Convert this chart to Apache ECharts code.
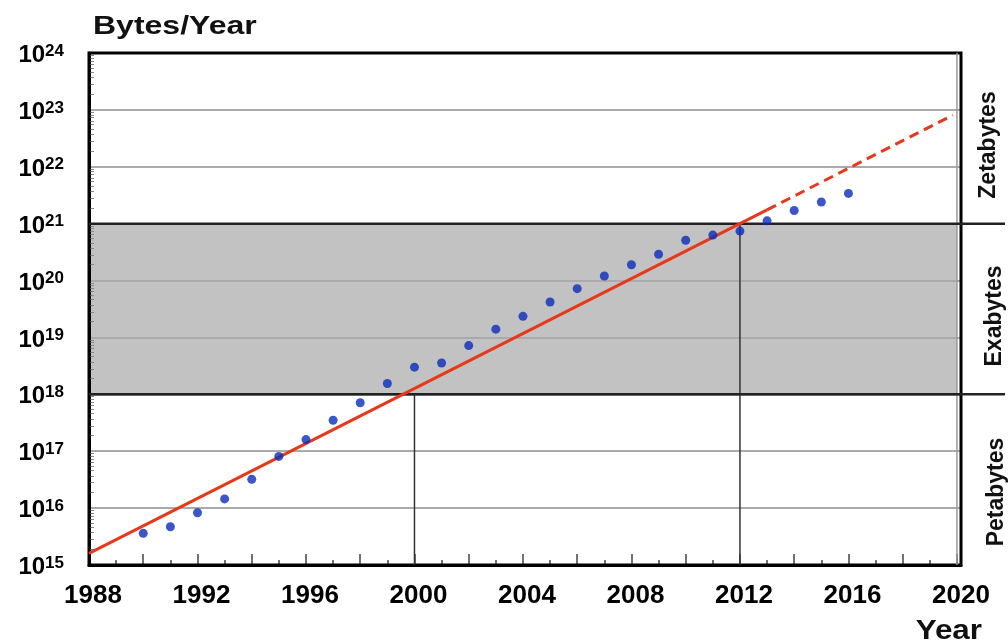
<!DOCTYPE html>
<html>
<head>
<meta charset="utf-8">
<script src="https://cdn.jsdelivr.net/npm/echarts@6/dist/echarts.min.js"></script>
<style>html,body{margin:0;padding:0;background:#fff}#c{width:1008px;height:643px}</style>
</head>
<body>
<div id="c"></div>
<script>
// ---- data ----
const years = [1990,1991,1992,1993,1994,1995,1996,1997,1998,1999,2000,2001,2002,2003,2004,2005,2006,2007,2008,2009,2010,2011,2012,2013,2014,2015,2016];
const bytesPerYear = [3.6e15,4.7e15,8.3e15,1.45e16,3.2e16,8.1e16,1.6e17,3.5e17,7.1e17,1.55e18,3.0e18,3.55e18,7.2e18,1.4e19,2.35e19,4.2e19,7.2e19,1.2e20,1.9e20,2.9e20,5.1e20,6.3e20,7.4e20,1.12e21,1.7e21,2.4e21,3.4e21];
const trendSolid = [[1988,1.6e15],[2013,1.75e21]];
const trendDashed = [[2013,1.75e21],[2019.85,8.1e22]];
const markerLine2000 = [[2000,1e15],[2000,1e18]];
const markerLine2012 = [[2012,1e15],[2012,1e21]];
const bandLow = 1e18, bandHigh = 1e21;
const xMin = 1988, xLast = 2020, xMax = 2020.15;
const yMin = 1e15, yMax = 1e24;
const unitLabels = ['Zetabytes','Exabytes','Petabytes'];
const titleText = 'Bytes/Year';
const xTitle = 'Year';

const FONT = '"Liberation Sans", Arial, Helvetica, sans-serif';
const chart = echarts.init(document.getElementById('c'));

chart.setOption({
  animation: false,
  backgroundColor: '#fff',
  grid: {left: 89, right: 47, top: 53, bottom: 78, show: true, z: 4, borderColor: '#000', borderWidth: 3, backgroundColor: 'transparent'},
  xAxis: {
    type: 'value', min: xMin, max: xMax, interval: 2, z: 3,
    axisLine: {lineStyle: {color: '#000', width: 3}},
    axisTick: {inside: true, length: 11, lineStyle: {color: '#444', width: 1.5}},
    minorTick: {show: true, splitNumber: 2, length: 5, lineStyle: {color: '#444', width: 1.5}},
    splitLine: {show: false},
    axisLabel: {
      margin: 18, fontSize: 26, fontWeight: 'bold', color: '#000', fontFamily: FONT, padding: [0, 0, 0, 8],
      formatter: v => (Math.abs((v - xMin) % 4) < 1e-6 && v <= xLast) ? String(v) : ''
    }
  },
  yAxis: {
    type: 'log', logBase: 10, min: yMin, max: yMax, z: 3,
    axisLine: {show: true, lineStyle: {color: '#000', width: 3}},
    axisTick: {show: false, inside: true},
    minorTick: {show: true, splitNumber: 10, length: 5, lineStyle: {color: '#888', width: 1}},
    splitLine: {show: true, lineStyle: {color: '#aaaaaa', width: 2}},
    axisLabel: {
      margin: 25, padding: [4, 0, 0, 0],
      formatter: v => '{b|10}{s|' + Math.round(Math.log10(v)) + '}',
      rich: {
        b: {fontSize: 24, fontWeight: 'bold', color: '#000', fontFamily: FONT, lineHeight: 25, verticalAlign: 'bottom'},
        s: {fontSize: 17, fontWeight: 'bold', color: '#000', fontFamily: FONT, lineHeight: 8, verticalAlign: 'top'}
      }
    }
  },
  series: [
    {type: 'line', data: [], z: 1, silent: true,
     markArea: {silent: true, itemStyle: {color: '#c2c2c2'},
       data: [[{xAxis: xMin, yAxis: bandLow}, {xAxis: xLast, yAxis: bandHigh}]]}},
    {type: 'line', data: markerLine2000, symbol: 'none', z: 4, lineStyle: {color: '#333', width: 1.5}},
    {type: 'line', data: markerLine2012, symbol: 'none', z: 4, lineStyle: {color: '#333', width: 1.5}},
    {type: 'line', data: trendSolid, symbol: 'none', z: 6, lineStyle: {color: '#e6381b', width: 3}},
    {type: 'line', data: trendDashed, symbol: 'none', z: 6, lineStyle: {color: '#e6381b', width: 3, type: [10, 6]}},
    {type: 'scatter', data: years.map((y, i) => [y, bytesPerYear[i]]), symbolSize: 9, z: 7,
     itemStyle: {color: '#0a2cbc'}}
  ]
});

const yP = v => chart.convertToPixel({yAxisIndex: 0}, v);
const xP = v => chart.convertToPixel({xAxisIndex: 0}, v);
const gx0 = xP(xMin), gxLast = xP(xLast);
const gyTop = yP(yMax), gyBot = yP(yMin), gyLow = yP(bandLow), gyHigh = yP(bandHigh);

chart.setOption({
  graphic: {elements: [
    {type: 'line', z: 5, shape: {x1: gxLast, y1: gyTop, x2: gxLast, y2: gyBot}, style: {stroke: '#999', lineWidth: 1.5}},
    {type: 'line', z: 5, shape: {x1: gx0, y1: gyLow, x2: 1005, y2: gyLow}, style: {stroke: '#222', lineWidth: 2.5}},
    {type: 'line', z: 5, shape: {x1: gx0, y1: gyHigh, x2: 1005, y2: gyHigh}, style: {stroke: '#222', lineWidth: 2.5}},
    {type: 'text', z: 8, x: 93, y: 27, scaleX: 1.28,
     style: {text: titleText, font: 'bold 25px ' + FONT, fill: '#111', textAlign: 'left', textVerticalAlign: 'middle'}},
    {type: 'text', z: 8, x: 982, y: 631, scaleX: 1.12,
     style: {text: xTitle, font: 'bold 28px ' + FONT, fill: '#111', textAlign: 'right', textVerticalAlign: 'middle'}},
    {type: 'text', z: 8, x: 989, y: 145, rotation: Math.PI / 2,
     style: {text: unitLabels[0], font: 'bold 23px ' + FONT, fill: '#111', textAlign: 'center', textVerticalAlign: 'middle'}},
    {type: 'text', z: 8, x: 995, y: 316, rotation: Math.PI / 2,
     style: {text: unitLabels[1], font: 'bold 23px ' + FONT, fill: '#111', textAlign: 'center', textVerticalAlign: 'middle'}},
    {type: 'text', z: 8, x: 997, y: 492, rotation: Math.PI / 2,
     style: {text: unitLabels[2], font: 'bold 23px ' + FONT, fill: '#111', textAlign: 'center', textVerticalAlign: 'middle'}}
  ]}
});
</script>
</body>
</html>
